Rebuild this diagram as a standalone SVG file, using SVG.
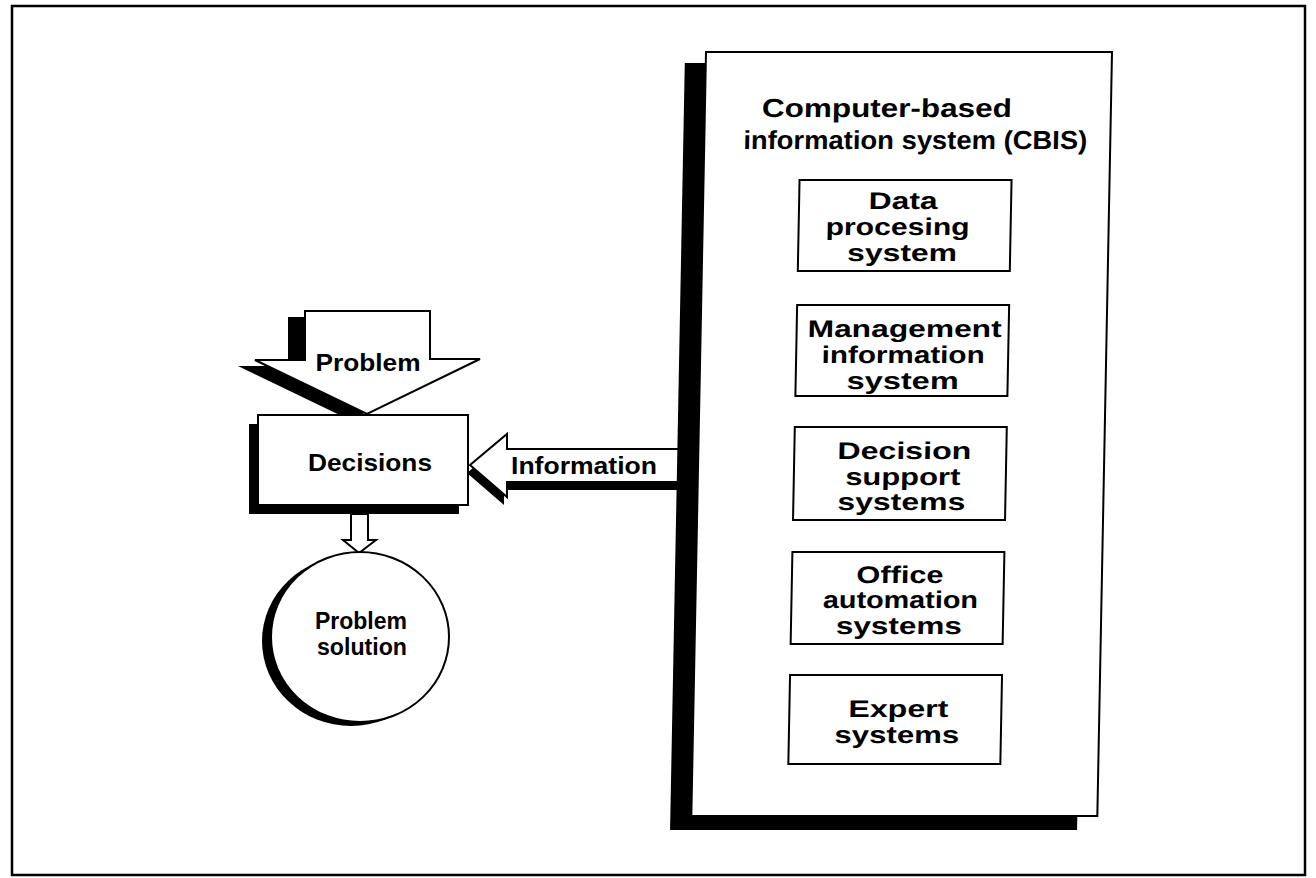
<svg xmlns="http://www.w3.org/2000/svg" width="1316" height="878" viewBox="0 0 1316 878">
<style>
.t{font-family:"Liberation Sans",Arial,Helvetica,sans-serif;font-weight:bold;font-size:24px;fill:#000;text-anchor:middle}
.h{font-size:26px}
.s{font-size:23px}
.box{fill:#fff;stroke:#000;stroke-width:2}
.sh{fill:#000;stroke:none}
</style>
<rect x="0" y="0" width="1316" height="878" fill="#fff"/>
<rect x="12" y="6" width="1293" height="869" fill="none" stroke="#000" stroke-width="2.5"/>
<g id="connectors">
  <g id="information-arrow">
    <polygon class="sh" points="467,473 504,442 504,457 678,457 678,490 504,490 504,505"/>
    <polygon class="box" points="470,465 507,434 507,449 682,449 682,482 507,482 507,497"/>
    <text class="t" x="584" y="474" textLength="146" lengthAdjust="spacingAndGlyphs">Information</text>
  </g>
  <polygon id="decision-to-solution" class="box" points="351,514 368,514 368,540 376,540 359,553 343,540 351,540"/>
</g>
<g id="problem">
  <polygon class="sh" points="288,317 413,317 413,365 463,365 350,420 238,366 288,366"/>
  <polygon class="box" points="305,311 430,311 430,359 480,359 367,414 255,360 305,360"/>
  <text class="t" x="368" y="371" textLength="105" lengthAdjust="spacingAndGlyphs">Problem</text>
</g>
<g id="decisions">
  <rect class="sh" x="249" y="424" width="210" height="90"/>
  <rect class="box" x="258" y="415" width="210" height="90"/>
  <text class="t" x="370" y="471" textLength="124" lengthAdjust="spacingAndGlyphs">Decisions</text>
</g>
<g id="solution">
  <ellipse class="sh" cx="351" cy="641" rx="89" ry="85"/>
  <ellipse class="box" cx="360" cy="637" rx="89" ry="85"/>
  <text class="t s" x="361" y="629" textLength="92" lengthAdjust="spacingAndGlyphs">Problem</text>
  <text class="t s" x="362" y="655" textLength="90" lengthAdjust="spacingAndGlyphs">solution</text>
</g>
<g id="cbis" transform="skewX(-1.1)">
  <rect class="sh" x="686" y="63" width="407" height="767"/>
  <rect class="box" x="707" y="52" width="406" height="764" stroke-width="2.5"/>
  <text class="t h" x="889" y="117" textLength="250" lengthAdjust="spacingAndGlyphs">Computer-based</text>
  <text class="t h" x="918" y="149" textLength="344" lengthAdjust="spacingAndGlyphs">information system (CBIS)</text>
  <g id="dps">
    <rect class="box" x="803" y="180" width="212" height="91"/>
    <text class="t" x="907" y="209" textLength="69" lengthAdjust="spacingAndGlyphs">Data</text>
    <text class="t" x="902" y="235" textLength="144" lengthAdjust="spacingAndGlyphs">procesing</text>
    <text class="t" x="907" y="261" textLength="110" lengthAdjust="spacingAndGlyphs">system</text>
  </g>
  <g id="mis">
    <rect class="box" x="803" y="305" width="212" height="91"/>
    <text class="t" x="911" y="337" textLength="194" lengthAdjust="spacingAndGlyphs">Management</text>
    <text class="t" x="910" y="363" textLength="163" lengthAdjust="spacingAndGlyphs">information</text>
    <text class="t" x="910" y="389" textLength="112" lengthAdjust="spacingAndGlyphs">system</text>
  </g>
  <g id="dss">
    <rect class="box" x="803" y="427" width="212" height="93"/>
    <text class="t" x="913" y="459" textLength="134" lengthAdjust="spacingAndGlyphs">Decision</text>
    <text class="t" x="912" y="485" textLength="115" lengthAdjust="spacingAndGlyphs">support</text>
    <text class="t" x="911" y="510" textLength="128" lengthAdjust="spacingAndGlyphs">systems</text>
  </g>
  <g id="oas">
    <rect class="box" x="803" y="552" width="212" height="92"/>
    <text class="t" x="911" y="583" textLength="87" lengthAdjust="spacingAndGlyphs">Office</text>
    <text class="t" x="912" y="608" textLength="155" lengthAdjust="spacingAndGlyphs">automation</text>
    <text class="t" x="911" y="634" textLength="126" lengthAdjust="spacingAndGlyphs">systems</text>
  </g>
  <g id="es">
    <rect class="box" x="803" y="675" width="212" height="89"/>
    <text class="t" x="912" y="717" textLength="100" lengthAdjust="spacingAndGlyphs">Expert</text>
    <text class="t" x="911" y="743" textLength="125" lengthAdjust="spacingAndGlyphs">systems</text>
  </g>
</g>
</svg>
